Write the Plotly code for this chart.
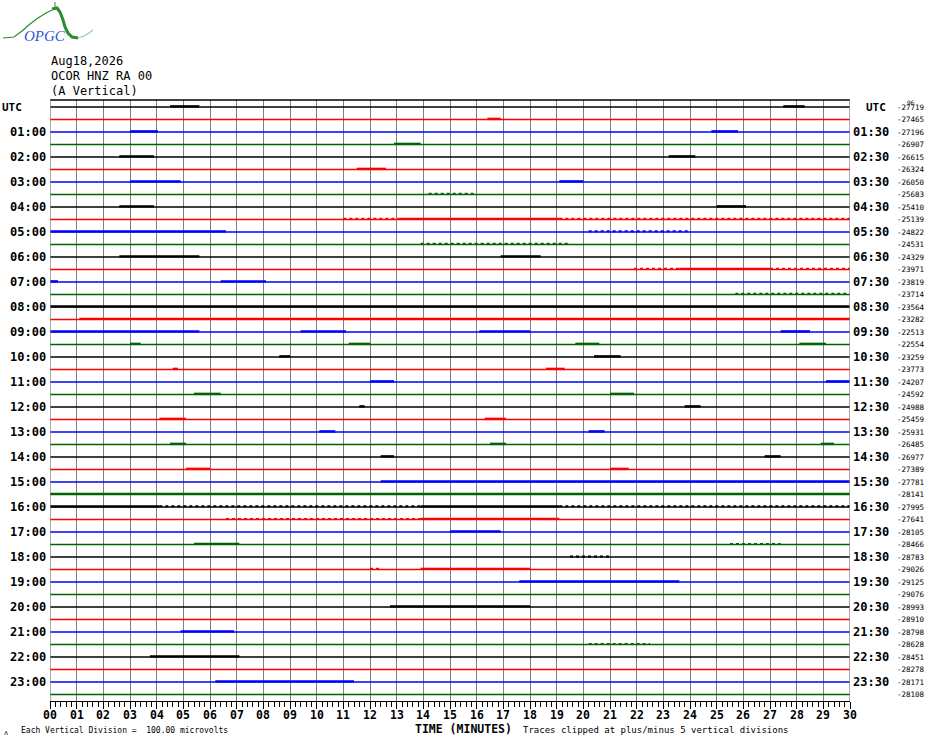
import plotly.graph_objects as go

W, H = 930, 744
L, R, T, B = 50, 80, 100, 43
PLOT_W = W - L - R
PLOT_H = H - T - B

n_rows = 48
row_colors = ["#000000", "#ff0000", "#0000ff", "#006400"]
minute_ticks = list(range(31))
minute_labels = ["%02d" % m for m in minute_ticks]

# offset printed at the right of each trace
right_values = [-27719, -27465, -27196, -26907, -26615, -26324, -26050, -25683,
                -25410, -25139, -24822, -24531, -24329, -23971, -23819, -23714,
                -23564, -23282, -22513, -22554, -23259, -23773, -24207, -24592,
                -24988, -25459, -25931, -26485, -26977, -27389, -27781, -28141,
                -27995, -27641, -28105, -28466, -28783, -29026, -29125, -29076,
                -28993, -28910, -28798, -28628, -28451, -28278, -28171, -28108]

# noisy stretches: (row, start min, end min, 1=sparse 2=dense)
bursts = [
    (0, 4.5, 5.6, 2), (0, 27.5, 28.3, 2),
    (1, 16.4, 16.9, 2),
    (2, 3.0, 4.05, 2), (2, 24.8, 25.8, 2),
    (3, 12.9, 13.9, 2),
    (4, 2.6, 3.9, 2), (4, 23.2, 24.2, 2),
    (5, 11.5, 12.6, 2),
    (6, 3.0, 4.9, 2), (6, 19.1, 20.0, 2),
    (7, 14.2, 15.9, 1),
    (8, 2.6, 3.9, 2), (8, 25.0, 26.1, 2),
    (9, 11.0, 13.1, 1), (9, 13.1, 19.1, 2), (9, 19.1, 30.0, 1),
    (10, 0.0, 6.6, 2), (10, 20.2, 24.0, 1),
    (11, 13.9, 19.5, 1),
    (12, 2.6, 5.6, 2), (12, 16.9, 18.4, 2),
    (13, 21.9, 23.6, 1), (13, 23.6, 27.0, 2), (13, 27.0, 30.0, 1),
    (14, 0.0, 0.3, 2), (14, 6.4, 8.1, 2),
    (15, 25.7, 30.0, 1),
    (16, 0.0, 30.0, 2),
    (17, 1.1, 30.0, 2),
    (18, 0.0, 5.6, 2), (18, 9.4, 11.1, 2), (18, 16.1, 18.0, 2), (18, 27.4, 28.5, 2),
    (19, 3.0, 3.4, 2), (19, 11.2, 12.0, 2), (19, 19.7, 20.6, 2), (19, 28.1, 29.1, 2),
    (20, 8.6, 9.0, 2), (20, 20.4, 21.4, 2),
    (21, 4.6, 4.8, 2), (21, 18.6, 19.3, 2),
    (22, 12.0, 12.9, 2), (22, 29.1, 30.0, 2),
    (23, 5.4, 6.4, 2), (23, 21.0, 21.9, 2),
    (24, 11.6, 11.8, 2), (24, 23.8, 24.4, 2),
    (25, 4.1, 5.1, 2), (25, 16.3, 17.1, 2),
    (26, 10.1, 10.7, 2), (26, 20.2, 20.8, 2),
    (27, 4.5, 5.1, 2), (27, 16.5, 17.1, 2), (27, 28.9, 29.4, 2),
    (28, 12.4, 12.9, 2), (28, 26.8, 27.4, 2),
    (29, 5.1, 6.0, 2), (29, 21.0, 21.7, 2),
    (30, 12.4, 30.0, 2),
    (31, 0.0, 30.0, 2),
    (32, 0.0, 4.1, 2), (32, 4.1, 13.9, 1), (32, 13.9, 19.1, 2), (32, 19.1, 30.0, 1),
    (33, 6.6, 13.9, 1), (33, 13.9, 19.1, 2),
    (34, 15.0, 16.9, 2),
    (35, 5.4, 7.1, 2), (35, 25.5, 27.4, 1),
    (36, 19.5, 21.0, 1),
    (37, 12.0, 12.4, 1), (37, 13.9, 18.0, 2),
    (38, 17.6, 23.6, 2),
    (40, 12.75, 18.0, 2),
    (42, 4.9, 6.9, 2),
    (43, 20.2, 22.5, 1),
    (44, 3.75, 7.1, 2),
    (46, 6.2, 11.4, 2),
]


def px(x):
    return (x - L) / PLOT_W


def py(y):
    return (H - B - y) / PLOT_H


fig = go.Figure()

# trace baselines, one scatter per colour
for c, col in enumerate(row_colors):
    xs, ys = [], []
    for i in range(c, n_rows, 4):
        xs += [0, 30, None]
        ys += [-i, -i, None]
    fig.add_trace(go.Scatter(x=xs, y=ys, mode="lines", hoverinfo="skip",
                             line=dict(color=col, width=1.3), showlegend=False))

# noise bursts
for c, col in enumerate(row_colors):
    for strength in (1, 2):
        xs, ys = [], []
        for row, s, e, st in bursts:
            if row % 4 == c and st == strength:
                xs += [s, e, None]
                ys += [-row + 0.05, -row + 0.05, None]
        if not xs:
            continue
        if strength == 2:
            ln = dict(color=col, width=2.4)
        else:
            ln = dict(color=col, width=2, dash="dot")
        fig.add_trace(go.Scatter(x=xs, y=ys, mode="lines", hoverinfo="skip",
                                 line=ln, showlegend=False))

ann = []
mono = "DejaVu Sans Mono"


def label(x, y, text, size, xanchor="left", xref="paper", yref="paper", family=mono,
          color="black"):
    ann.append(dict(x=x, y=y, xref=xref, yref=yref, text=text, xanchor=xanchor,
                    yanchor="middle", showarrow=False,
                    font=dict(family=family, size=size, color=color)))


# left / right time labels
for i in range(0, n_rows, 2):
    h = i // 2
    if i == 0:
        label(px(0), 0, "<b>UTC</b>", 11, yref="y")
        label(px(864), 0, "<b>UTC</b>", 11, yref="y")
    else:
        label(px(48), -i, "<b>%02d:00</b>" % h, 12, xanchor="right", yref="y")
        label(px(851), -i, "<b>%02d:30</b>" % h, 12, yref="y")

for i, v in enumerate(right_values):
    label(px(895), -i, str(v), 7.5, yref="y")
label(px(905), py(102), "96", 6)

# minute labels under the axis
for m, lab in zip(minute_ticks, minute_labels):
    label(m, py(715), "<b>%s</b>" % lab, 11.5, xanchor="center", xref="x")

# header
for k, line in enumerate(["Aug18,2026", "OCOR HNZ RA 00", "(A Vertical)"]):
    label(px(49), py(61 + 15 * k), line, 12)

# footer
label(px(19), py(730), "Each Vertical Division =  100.00 microvolts", 8)
label(px(413), py(729), "<b>TIME (MINUTES)</b>", 11.5)
label(px(521), py(730), "Traces clipped at plus/minus 5 vertical divisions", 9)
label(px(2), py(733), "ʌ", 7)

# logo
label(px(22), py(36), "<i>OPGC</i>", 15, family="Liberation Serif", color="#2f55d4")


def path_of(points):
    return "M " + " L ".join("%.4f,%.4f" % (px(a), py(b)) for a, b in points)


shapes = [
    dict(type="path", xref="paper", yref="paper",
         path=path_of([(3, 38), (14, 37), (22, 31), (30, 24), (38, 18), (46, 13), (52, 10)]),
         line=dict(color="#2e8b2e", width=1.2)),
    dict(type="path", xref="paper", yref="paper",
         path=path_of([(52, 9), (57, 8), (60, 12), (63, 20), (65, 27), (68, 33), (72, 37), (78, 38)]),
         line=dict(color="#2e8b2e", width=3)),
    dict(type="path", xref="paper", yref="paper",
         path=path_of([(78, 38), (84, 36), (89, 33), (93, 30)]),
         line=dict(color="#9acd9a", width=1.2)),
    dict(type="line", xref="paper", yref="paper", x0=px(55), x1=px(55), y0=py(2), y1=py(9),
         line=dict(color="#2e8b2e", width=1)),
    # frame
    dict(type="line", xref="paper", yref="paper", x0=0, x1=1, y0=1, y1=1,
         line=dict(color="black", width=1.3)),
    dict(type="line", xref="x", yref="paper", x0=0, x1=0, y0=0, y1=1,
         line=dict(color="#808080", width=1.3)),
    dict(type="line", xref="x", yref="paper", x0=30, x1=30, y0=0, y1=1,
         line=dict(color="#808080", width=1.3)),
]

fig.update_layout(
    width=W, height=H,
    margin=dict(l=L, r=R, t=T, b=B, autoexpand=False),
    paper_bgcolor="white", plot_bgcolor="white",
    annotations=ann, shapes=shapes,
    xaxis=dict(range=[0, 30], tickvals=minute_ticks, showticklabels=False,
               showgrid=True, gridcolor="#808080", gridwidth=1.3,
               zeroline=False, showline=True, linecolor="black", linewidth=1,
               ticks="outside", ticklen=7, tickcolor="black", tickwidth=1,
               minor=dict(dtick=0.2, ticks="outside", ticklen=5, tickcolor="black",
                          showgrid=False),
               fixedrange=True),
    yaxis=dict(range=[-47.52, 0.56], showgrid=False, zeroline=False,
               showticklabels=False, fixedrange=True),
)

fig.write_html("out.html", config={"displayModeBar": False},
               post_script="document.body.style.margin='0px';")
